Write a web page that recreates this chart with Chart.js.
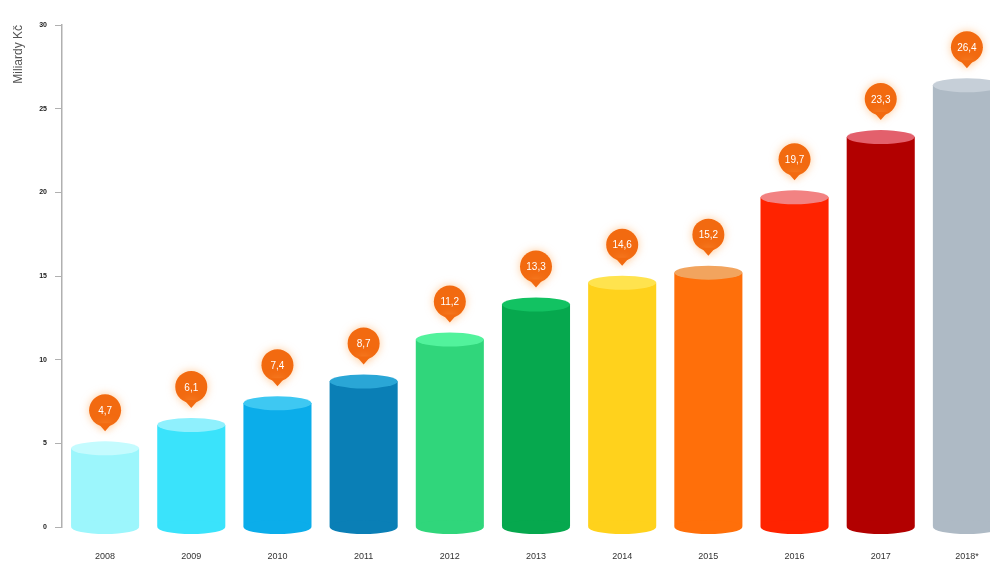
<!DOCTYPE html>
<html>
<head>
<meta charset="utf-8">
<script src="https://cdn.jsdelivr.net/npm/chart.js@4.4.1/dist/chart.umd.min.js"></script>
<style>
  html, body { margin: 0; padding: 0; background: #fff; overflow: hidden; width: 990px; height: 561px; }
  #wrap { width: 1010px; height: 561px; }
</style>
</head>
<body>
<div id="wrap"><canvas id="c" width="1010" height="561"></canvas></div>
<script>
const categories = ['2008', '2009', '2010', '2011', '2012', '2013', '2014', '2015', '2016', '2017', '2018*'];
const values = [4.7, 6.1, 7.4, 8.7, 11.2, 13.3, 14.6, 15.2, 19.7, 23.3, 26.4];
const bodyColors = ['#9cf6fc', '#3ae3fb', '#0badea', '#0a7fb6', '#30d67b', '#06a84e', '#ffd21c', '#ff6f0a', '#ff2300', '#b20000', '#aebac5'];
const topColors  = ['#c4fbfe', '#8ff0fd', '#3ec8f2', '#2aa6d6', '#52f29c', '#12c262', '#ffe34e', '#f2a45e', '#f28282', '#e3606c', '#c6cfd8'];
const yTicks = [0, 5, 10, 15, 20, 25, 30];
const yTitle = 'Miliardy Kč';

const cylinderPlugin = {
  id: 'cylinder',
  afterDatasetsDraw(chart) {
    const ctx = chart.ctx;
    const meta = chart.getDatasetMeta(0);
    const base = chart.scales.y.getPixelForValue(0);
    meta.data.forEach((bar, i) => {
      const w = bar.width;
      const rx = w / 2;
      const ry = 7;
      ctx.save();
      ctx.fillStyle = bodyColors[i];
      ctx.beginPath();
      ctx.ellipse(bar.x, base, rx, ry, 0, 0, Math.PI * 2);
      ctx.fill();
      ctx.fillStyle = topColors[i];
      ctx.beginPath();
      ctx.ellipse(bar.x, bar.y, rx, ry, 0, 0, Math.PI * 2);
      ctx.fill();
      ctx.restore();

      const cx = bar.x, cy = bar.y - 38, r = 16;
      ctx.save();
      ctx.shadowColor = 'rgba(255,170,90,0.6)';
      ctx.shadowBlur = 9;
      ctx.fillStyle = '#f26a10';
      ctx.beginPath();
      ctx.arc(cx, cy, r, 0, Math.PI * 2);
      ctx.fill();
      ctx.beginPath();
      ctx.moveTo(cx - 7, cy + 13);
      ctx.lineTo(cx, cy + 21);
      ctx.lineTo(cx + 7, cy + 13);
      ctx.closePath();
      ctx.fill();
      ctx.restore();
      ctx.save();
      ctx.fillStyle = '#ffffff';
      ctx.font = '10px "Liberation Sans", Arial, sans-serif';
      ctx.textAlign = 'center';
      ctx.textBaseline = 'middle';
      ctx.fillText(values[i].toFixed(1).replace('.', ','), cx, cy + 1);
      ctx.restore();
    });
  }
};

new Chart(document.getElementById('c'), {
  type: 'bar',
  data: {
    labels: categories,
    datasets: [{
      data: values,
      backgroundColor: bodyColors,
      borderWidth: 0,
      categoryPercentage: 1,
      barPercentage: 0.79
    }]
  },
  options: {
    responsive: false,
    animation: false,
    devicePixelRatio: 1,
    layout: { padding: { top: 25, left: 0, right: 0, bottom: 0 } },
    plugins: { legend: { display: false }, tooltip: { enabled: false } },
    scales: {
      x: {
        grid: { display: false, drawTicks: false },
        border: { display: false },
        ticks: {
          padding: 24,
          color: '#333',
          font: { family: '"Liberation Sans", Arial, sans-serif', size: 9 }
        },
        afterFit(scale) { scale.height = 34; }
      },
      y: {
        min: 0,
        max: 30,
        afterBuildTicks(scale) { scale.ticks = yTicks.map(v => ({ value: v })); },
        grid: { drawOnChartArea: false, drawTicks: true, tickLength: 7, color: '#b0b0b0' },
        border: { display: true, color: '#b0b0b0', width: 1.5 },
        ticks: {
          padding: 8,
          color: '#222',
          font: { family: '"Liberation Sans", Arial, sans-serif', size: 7, weight: 'bold' }
        },
        title: {
          display: true,
          text: yTitle,
          align: 'end',
          color: '#555',
          padding: { top: 11, bottom: 0 },
          font: { family: '"Liberation Sans", Arial, sans-serif', size: 12 }
        },
        afterFit(scale) { scale.width = 62; }
      }
    }
  },
  plugins: [cylinderPlugin]
});
</script>
</body>
</html>
